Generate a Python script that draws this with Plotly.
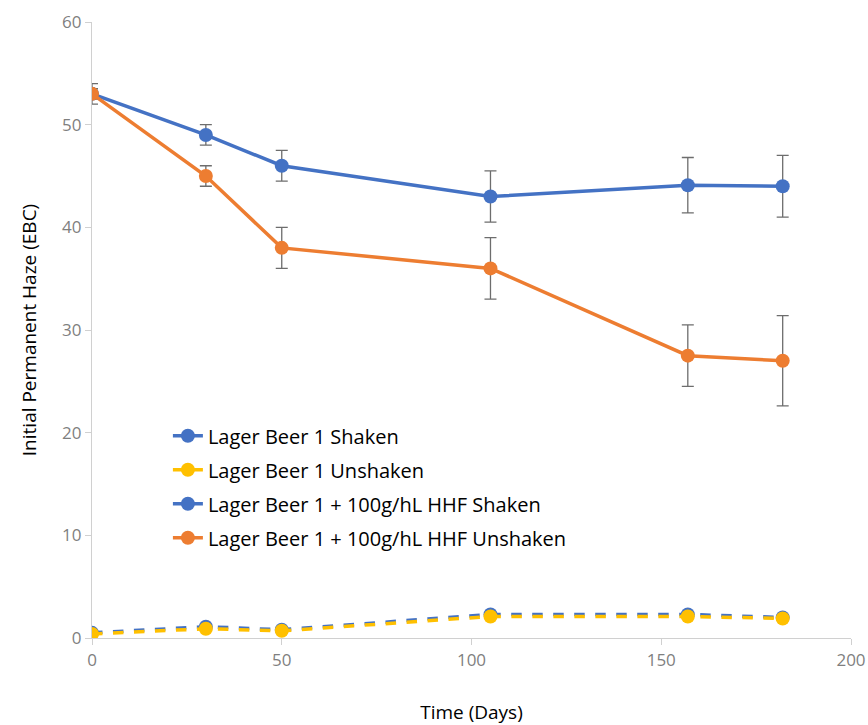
import plotly.graph_objects as go

days = [0, 30, 50, 105, 157, 182]

lager_shaken = [0.5, 1.1, 0.8, 2.3, 2.3, 2.0]
lager_unshaken = [0.4, 0.9, 0.7, 2.1, 2.1, 1.9]
hhf_shaken = [53.0, 49.0, 46.0, 43.0, 44.1, 44.0]
hhf_shaken_err = [1.0, 1.0, 1.5, 2.5, 2.7, 3.0]
hhf_unshaken = [53.0, 45.0, 38.0, 36.0, 27.5, 27.0]
hhf_unshaken_err = [0.5, 1.0, 2.0, 3.0, 3.0, 4.4]

names = ["Lager Beer 1 Shaken", "Lager Beer 1 Unshaken",
         "Lager Beer 1 + 100g/hL HHF Shaken", "Lager Beer 1 + 100g/hL HHF Unshaken"]

BLUE = "#4472C4"
ORANGE = "#ED7D31"
YELLOW = "#FFC000"
ERR = "#6d6d6d"

fig = go.Figure()

fig.add_trace(go.Scatter(
    x=days, y=hhf_shaken, name=names[2], mode="lines+markers",
    line=dict(color=BLUE, width=3.5), marker=dict(color=BLUE, size=14),
    error_y=dict(type="data", array=hhf_shaken_err, visible=True, color=ERR, thickness=1.3, width=6),
    legendrank=3, legendgroup="c"))
fig.add_trace(go.Scatter(
    x=days, y=hhf_unshaken, name=names[3], mode="lines+markers",
    line=dict(color=ORANGE, width=3.5), marker=dict(color=ORANGE, size=14),
    error_y=dict(type="data", array=hhf_unshaken_err, visible=True, color=ERR, thickness=1.3, width=6),
    legendrank=4, legendgroup="d"))
fig.add_trace(go.Scatter(
    x=days, y=lager_shaken, name=names[0], mode="lines+markers",
    line=dict(color=BLUE, width=3.5, dash="dash"), marker=dict(color=BLUE, size=14),
    legendrank=1, legendgroup="a"))
fig.add_trace(go.Scatter(
    x=days, y=lager_unshaken, name=names[1], mode="lines+markers",
    line=dict(color=YELLOW, width=3.5, dash="dash"), marker=dict(color=YELLOW, size=14),
    legendrank=2, legendgroup="b"))

fig.update_layout(
    width=868, height=725,
    margin=dict(l=92, r=17, t=22, b=87, autoexpand=False),
    paper_bgcolor="white", plot_bgcolor="white",
    font=dict(family="Open Sans, sans-serif", size=17, color="#000000"),
    showlegend=True,
    legend=dict(x=0.1, y=0.36, xanchor="left", yanchor="top",
                bgcolor="rgba(0,0,0,0)", font=dict(size=20, color="#000000"),
                traceorder="grouped", tracegroupgap=5),
    xaxis=dict(range=[0, 200], tickvals=[0, 50, 100, 150, 200], automargin=False,
               showgrid=False, zeroline=False, showline=True, linecolor="#d0d0d0", linewidth=1.3,
               ticks="outside", ticklen=6, tickcolor="#d0d0d0",
               tickfont=dict(size=17, color="#7f7f7f"),
               title=dict(text="Time (Days)", font=dict(size=19, color="#000000"), standoff=46)),
    yaxis=dict(range=[0, 60], tickvals=[0, 10, 20, 30, 40, 50, 60], automargin=False,
               showgrid=False, zeroline=False, showline=True, linecolor="#d0d0d0", linewidth=1.3,
               ticks="outside", ticklen=6, tickcolor="#d0d0d0",
               tickfont=dict(size=17, color="#7f7f7f"),
               title=dict(text="Initial Permanent Haze (EBC)", font=dict(size=19, color="#000000"), standoff=20)),
)

fig.write_html("out.html")
